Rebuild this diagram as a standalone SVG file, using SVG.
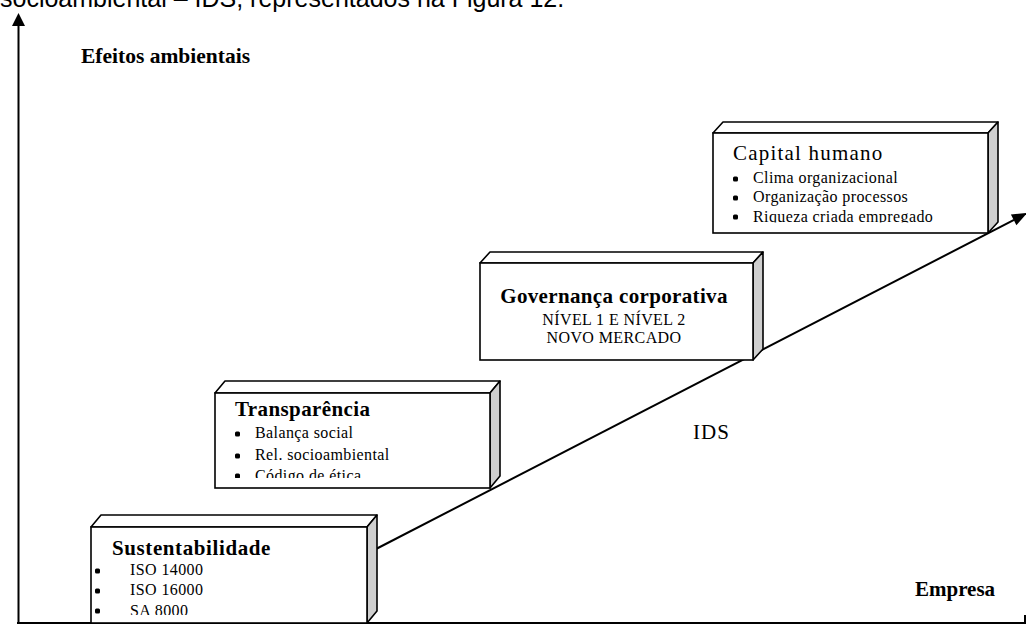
<svg xmlns="http://www.w3.org/2000/svg" width="1026" height="625" viewBox="0 0 1026 625">
<style>
.ser{font-family:"Liberation Serif","Times New Roman",serif;fill:#000}
.ttl{font-size:21px;font-weight:bold}
.ttlr{font-size:21px;letter-spacing:1.2px}
.itm{font-size:16px;letter-spacing:0.4px}
.front{fill:#fff;stroke:#000;stroke-width:1.6}
.top{fill:#fff;stroke:#000;stroke-width:1.6;stroke-linejoin:round}
.side{fill:#cfcfcf;stroke:#000;stroke-width:1.6;stroke-linejoin:round}
.ax{stroke:#000;stroke-width:2;fill:none}
.dot{fill:#000}
</style>
<defs>
<clipPath id="c1"><rect x="91" y="527" width="276" height="88"/></clipPath>
<clipPath id="c2"><rect x="215" y="393" width="275" height="85"/></clipPath>
<clipPath id="c4"><rect x="713" y="133" width="275" height="89.5"/></clipPath>
</defs>
<rect width="1026" height="625" fill="#fff"/>
<text x="0" y="7" font-family="Liberation Sans, Arial, sans-serif" font-size="25" fill="#000">socioambiental – IDS, representados na Figura 12.</text>
<g id="axes">
<line class="ax" x1="18.5" y1="24" x2="18.5" y2="624"/>
<polygon points="18.5,13 12,26 25,26" fill="#000"/>
<line class="ax" x1="17" y1="623" x2="1025" y2="623"/>
<line class="ax" x1="1025" y1="615" x2="1025" y2="624"/>
<text class="ser" x="81" y="63" font-size="21.5" font-weight="bold">Efeitos ambientais</text>
<text class="ser" x="915" y="596" font-size="21" font-weight="bold">Empresa</text>
</g>
<g id="connectors">
<line x1="376" y1="549" x2="1014" y2="219.9" stroke="#000" stroke-width="2"/>
<polygon points="1027,213 1016.4,225.2 1010.9,214.5" fill="#000"/>
<text class="ser" x="693" y="439" font-size="21" letter-spacing="1">IDS</text>
</g>
<g id="sustentabilidade">
<polygon class="top" points="91,527 101,515 377,515 367,527"/>
<polygon class="side" points="367,527 377,515 377,611 367,623"/>
<rect class="front" x="91" y="527" width="276" height="96"/>
<g clip-path="url(#c1)">
<text class="ser ttl" x="112" y="555" letter-spacing="0.6">Sustentabilidade</text>
<rect class="dot" x="95" y="568.5" width="5" height="5" rx="1.5"/>
<rect class="dot" x="95" y="588.5" width="5" height="5" rx="1.5"/>
<rect class="dot" x="95" y="608.5" width="5" height="5" rx="1.5"/>
<text class="ser itm" x="130" y="575">ISO 14000</text>
<text class="ser itm" x="130" y="595">ISO 16000</text>
<text class="ser itm" x="130" y="616">SA 8000</text>
</g>
</g>
<g id="transparencia">
<polygon class="top" points="215,393 225,381 500,381 490,393"/>
<polygon class="side" points="490,393 500,381 500,476 490,488"/>
<rect class="front" x="215" y="393" width="275" height="95"/>
<g clip-path="url(#c2)">
<text class="ser ttl" x="235" y="416" letter-spacing="0.4">Transparência</text>
<rect class="dot" x="235" y="431.5" width="5" height="5" rx="1.5"/>
<rect class="dot" x="235" y="453.5" width="5" height="5" rx="1.5"/>
<rect class="dot" x="235" y="473.5" width="5" height="5" rx="1.5"/>
<text class="ser itm" x="255" y="438">Balança social</text>
<text class="ser itm" x="255" y="460">Rel. socioambiental</text>
<text class="ser itm" x="255" y="481">Código de ética</text>
</g>
</g>
<g id="governanca">
<polygon class="top" points="480,263 490,252 763,252 753,263"/>
<polygon class="side" points="753,263 763,252 763,349 753,360"/>
<rect class="front" x="480" y="263" width="273" height="97"/>
<text class="ser ttl" x="614" y="303" text-anchor="middle" letter-spacing="0.35">Governança corporativa</text>
<text class="ser itm" x="614" y="325" text-anchor="middle">NÍVEL 1 E NÍVEL 2</text>
<text class="ser itm" x="614" y="343" text-anchor="middle">NOVO MERCADO</text>
</g>
<g id="capital">
<polygon class="top" points="713,133 723,122 998,122 988,133"/>
<polygon class="side" points="988,133 998,122 998,222 988,233"/>
<rect class="front" x="713" y="133" width="275" height="100"/>
<g clip-path="url(#c4)">
<text class="ser ttlr" x="733" y="160">Capital humano</text>
<rect class="dot" x="733" y="176.5" width="5" height="5" rx="1.5"/>
<rect class="dot" x="733" y="195.5" width="5" height="5" rx="1.5"/>
<rect class="dot" x="733" y="214.5" width="5" height="5" rx="1.5"/>
<text class="ser itm" x="753" y="183">Clima organizacional</text>
<text class="ser itm" x="753" y="202">Organização processos</text>
<text class="ser itm" x="753" y="221.5">Riqueza criada empregado</text>
</g>
</g>
</svg>
